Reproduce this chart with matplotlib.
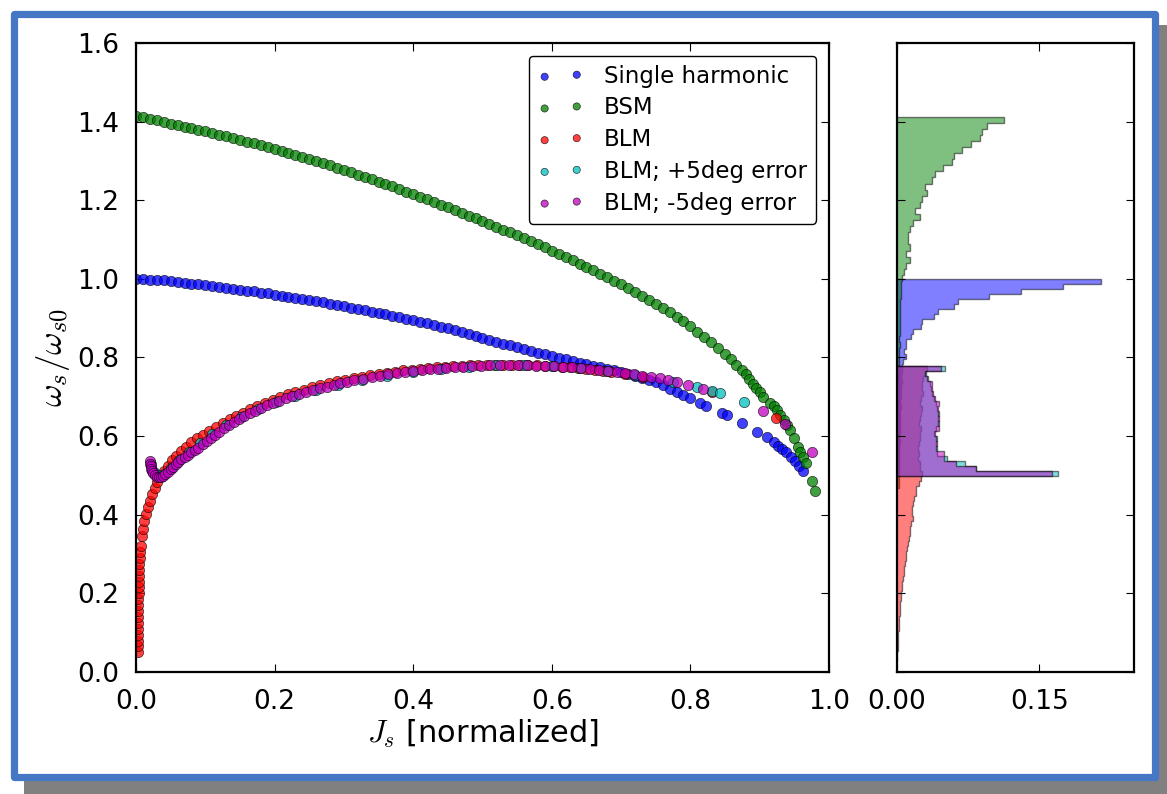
import numpy as np
import matplotlib
matplotlib.use("Agg")
import matplotlib.pyplot as plt
from matplotlib.patches import Rectangle

plt.rcParams['font.family'] = ['DejaVu Sans']
plt.rcParams['mathtext.fontset'] = 'cm'

# ---- scatter data: J_s (normalized) and omega_s/omega_s0 ----
single_J = [0.00, 0.01, 0.02, 0.03, 0.04, 0.05, 0.06, 0.07, 0.08, 0.09,
            0.10, 0.11, 0.12, 0.13, 0.14, 0.15, 0.16, 0.17, 0.18, 0.19,
            0.20, 0.21, 0.22, 0.23, 0.24, 0.25, 0.26, 0.27, 0.28, 0.29,
            0.30, 0.31, 0.32, 0.33, 0.34, 0.35, 0.36, 0.37, 0.38, 0.39,
            0.40, 0.41, 0.42, 0.43, 0.44, 0.45, 0.46, 0.47, 0.48, 0.49,
            0.50, 0.51, 0.52, 0.53, 0.54, 0.55, 0.56, 0.57, 0.58, 0.59,
            0.60, 0.61, 0.62, 0.63, 0.64, 0.65, 0.66, 0.67, 0.68, 0.69,
            0.70, 0.71, 0.72, 0.73, 0.74, 0.75, 0.76, 0.77, 0.78, 0.79,
            0.80, 0.814, 0.822, 0.845, 0.853, 0.874, 0.896, 0.910, 0.920, 0.926,
            0.932, 0.938, 0.945, 0.951, 0.956, 0.962]
single_w = [1.000, 0.999, 0.998, 0.997, 0.996, 0.994, 0.992, 0.990, 0.988, 0.986,
            0.984, 0.982, 0.979, 0.977, 0.975, 0.972, 0.970, 0.968, 0.965, 0.963,
            0.960, 0.957, 0.955, 0.952, 0.949, 0.946, 0.943, 0.940, 0.937, 0.934,
            0.930, 0.927, 0.924, 0.920, 0.917, 0.913, 0.910, 0.906, 0.902, 0.899,
            0.895, 0.891, 0.887, 0.883, 0.878, 0.874, 0.869, 0.865, 0.860, 0.855,
            0.850, 0.845, 0.840, 0.835, 0.831, 0.826, 0.822, 0.817, 0.812, 0.808,
            0.803, 0.799, 0.795, 0.791, 0.787, 0.783, 0.779, 0.776, 0.771, 0.767,
            0.762, 0.758, 0.753, 0.748, 0.744, 0.737, 0.729, 0.721, 0.712, 0.704,
            0.696, 0.684, 0.676, 0.660, 0.654, 0.633, 0.611, 0.598, 0.585, 0.575,
            0.568, 0.560, 0.548, 0.537, 0.525, 0.511]

bsm_J = [0.00, 0.01, 0.02, 0.03, 0.04, 0.05, 0.06, 0.07, 0.08, 0.09,
         0.10, 0.11, 0.12, 0.13, 0.14, 0.15, 0.16, 0.17, 0.18, 0.19,
         0.20, 0.21, 0.22, 0.23, 0.24, 0.25, 0.26, 0.27, 0.28, 0.29,
         0.30, 0.31, 0.32, 0.33, 0.34, 0.35, 0.36, 0.37, 0.38, 0.39,
         0.40, 0.41, 0.42, 0.43, 0.44, 0.45, 0.46, 0.47, 0.48, 0.49,
         0.50, 0.51, 0.52, 0.53, 0.54, 0.55, 0.56, 0.57, 0.58, 0.59,
         0.60, 0.61, 0.62, 0.63, 0.64, 0.65, 0.66, 0.67, 0.68, 0.69,
         0.70, 0.71, 0.72, 0.73, 0.74, 0.75, 0.76, 0.77, 0.78, 0.79,
         0.80, 0.81, 0.82, 0.83, 0.84, 0.85, 0.858, 0.866, 0.874, 0.880,
         0.885, 0.890, 0.895, 0.900, 0.905, 0.915, 0.920, 0.925, 0.930, 0.935,
         0.940, 0.944, 0.950, 0.955, 0.958, 0.962, 0.967, 0.975, 0.980]
bsm_w = [1.414, 1.411, 1.407, 1.403, 1.399, 1.395, 1.391, 1.387, 1.383, 1.379,
         1.375, 1.371, 1.367, 1.363, 1.359, 1.354, 1.349, 1.345, 1.340, 1.335,
         1.331, 1.326, 1.321, 1.315, 1.310, 1.305, 1.299, 1.294, 1.289, 1.283,
         1.277, 1.271, 1.265, 1.259, 1.253, 1.247, 1.241, 1.235, 1.229, 1.222,
         1.215, 1.209, 1.202, 1.195, 1.189, 1.182, 1.175, 1.168, 1.161, 1.154,
         1.147, 1.140, 1.133, 1.125, 1.118, 1.111, 1.103, 1.096, 1.088, 1.080,
         1.072, 1.064, 1.056, 1.048, 1.039, 1.031, 1.022, 1.013, 1.004, 0.995,
         0.986, 0.976, 0.967, 0.957, 0.947, 0.937, 0.926, 0.915, 0.904, 0.892,
         0.879, 0.866, 0.853, 0.839, 0.825, 0.808, 0.795, 0.782, 0.768, 0.757,
         0.745, 0.733, 0.722, 0.711, 0.700, 0.685, 0.676, 0.667, 0.653, 0.640,
         0.628, 0.616, 0.595, 0.572, 0.560, 0.547, 0.532, 0.486, 0.460]

blm_J = [0.003, 0.003, 0.003, 0.003, 0.003, 0.003, 0.003, 0.003, 0.003, 0.003,
         0.004, 0.004, 0.004, 0.004, 0.005, 0.005, 0.006, 0.006, 0.007, 0.008,
         0.010, 0.012, 0.014, 0.017, 0.020, 0.023, 0.027, 0.031, 0.036, 0.041,
         0.046, 0.052, 0.058, 0.065, 0.072, 0.080, 0.088, 0.097, 0.106, 0.115,
         0.125, 0.135, 0.145, 0.155, 0.165, 0.175, 0.186, 0.197, 0.208, 0.219,
         0.230, 0.242, 0.254, 0.266, 0.278, 0.290, 0.302, 0.314, 0.326, 0.338,
         0.350, 0.362, 0.374, 0.386, 0.398, 0.410, 0.422, 0.434, 0.446, 0.458,
         0.470, 0.482, 0.494, 0.506, 0.518, 0.530, 0.542, 0.554, 0.566, 0.578,
         0.590, 0.602, 0.614, 0.626, 0.638, 0.650, 0.662, 0.674, 0.686, 0.706,
         0.732, 0.831, 0.923]
blm_w = [0.050, 0.065, 0.080, 0.095, 0.110, 0.125, 0.140, 0.155, 0.170, 0.185,
         0.200, 0.215, 0.230, 0.245, 0.260, 0.275, 0.290, 0.305, 0.320, 0.345,
         0.365, 0.385, 0.402, 0.420, 0.436, 0.452, 0.468, 0.483, 0.498, 0.512,
         0.525, 0.538, 0.550, 0.562, 0.573, 0.584, 0.594, 0.604, 0.614, 0.624,
         0.634, 0.643, 0.652, 0.660, 0.668, 0.676, 0.684, 0.692, 0.699, 0.706,
         0.712, 0.718, 0.724, 0.729, 0.734, 0.739, 0.743, 0.747, 0.751, 0.755,
         0.758, 0.761, 0.764, 0.767, 0.769, 0.771, 0.773, 0.775, 0.777, 0.778,
         0.779, 0.780, 0.781, 0.782, 0.782, 0.782, 0.782, 0.782, 0.781, 0.780,
         0.779, 0.778, 0.777, 0.775, 0.773, 0.771, 0.768, 0.765, 0.762, 0.758,
         0.751, 0.712, 0.646]

plus_J = [0.022, 0.026, 0.032, 0.040, 0.050, 0.062, 0.076, 0.092, 0.110, 0.130,
          0.152, 0.176, 0.202, 0.230, 0.260, 0.292, 0.326, 0.362, 0.400, 0.440,
          0.480, 0.520, 0.560, 0.600, 0.640, 0.680, 0.720, 0.775, 0.809, 0.831,
          0.843, 0.877]
plus_w = [0.530, 0.510, 0.500, 0.503, 0.518, 0.538, 0.560, 0.583, 0.606, 0.628,
          0.649, 0.668, 0.686, 0.702, 0.717, 0.731, 0.743, 0.754, 0.764, 0.772,
          0.777, 0.780, 0.780, 0.778, 0.773, 0.765, 0.755, 0.738, 0.726, 0.715,
          0.710, 0.687]

minus_J = [0.020, 0.0205, 0.021, 0.022, 0.023, 0.025, 0.027, 0.030, 0.033, 0.036,
           0.039, 0.042, 0.046, 0.050, 0.053, 0.057, 0.061, 0.065, 0.070, 0.075,
           0.080, 0.085, 0.090, 0.096, 0.102, 0.108, 0.114, 0.120, 0.127, 0.134,
           0.141, 0.148, 0.156, 0.164, 0.172, 0.180, 0.189, 0.198, 0.207, 0.216,
           0.225, 0.235, 0.245, 0.255, 0.265, 0.275, 0.285, 0.295, 0.305, 0.315,
           0.328, 0.340, 0.352, 0.364, 0.376, 0.388, 0.400, 0.412, 0.424, 0.436,
           0.448, 0.460, 0.472, 0.485, 0.498, 0.511, 0.525, 0.538, 0.551, 0.564,
           0.577, 0.590, 0.603, 0.616, 0.629, 0.642, 0.655, 0.668, 0.681, 0.694,
           0.706, 0.718, 0.730, 0.743, 0.756, 0.768, 0.780, 0.797, 0.818, 0.905,
           0.937, 0.975]
minus_w = [0.537, 0.530, 0.524, 0.517, 0.511, 0.505, 0.500, 0.497, 0.496, 0.496,
           0.499, 0.503, 0.509, 0.516, 0.522, 0.529, 0.535, 0.541, 0.547, 0.553,
           0.559, 0.565, 0.571, 0.579, 0.587, 0.595, 0.603, 0.611, 0.620, 0.629,
           0.637, 0.644, 0.651, 0.658, 0.665, 0.671, 0.678, 0.684, 0.690, 0.696,
           0.701, 0.707, 0.712, 0.717, 0.722, 0.726, 0.730, 0.734, 0.738, 0.742,
           0.746, 0.750, 0.753, 0.757, 0.760, 0.763, 0.766, 0.768, 0.770, 0.772,
           0.773, 0.775, 0.776, 0.778, 0.779, 0.780, 0.781, 0.781, 0.780, 0.780,
           0.779, 0.779, 0.778, 0.777, 0.775, 0.773, 0.771, 0.768, 0.766, 0.763,
           0.760, 0.757, 0.754, 0.751, 0.748, 0.743, 0.738, 0.730, 0.720, 0.664,
           0.631, 0.560]

# ---- histogram bar heights, listed from the top bin downward ----
single_top, single_bin = 1.000, 0.0127
single_hist = [0.215, 0.175, 0.131, 0.097, 0.064, 0.060, 0.043, 0.039, 0.026, 0.025,
               0.017, 0.015, 0.010, 0.009, 0.007, 0.009, 0.006, 0.005, 0.005, 0.004,
               0.005, 0.004, 0.004, 0.004, 0.003, 0.004, 0.003, 0.003, 0.003, 0.003,
               0.003, 0.002, 0.003, 0.002, 0.002, 0.002, 0.002, 0.002, 0.002]

bsm_top, bsm_bin = 1.413, 0.0155
bsm_hist = [0.113, 0.095, 0.090, 0.088, 0.078, 0.069, 0.060, 0.058, 0.048, 0.040,
            0.037, 0.030, 0.032, 0.026, 0.024, 0.019, 0.024, 0.017, 0.014, 0.012,
            0.012, 0.014, 0.010, 0.014, 0.009, 0.007, 0.005, 0.004, 0.004, 0.004,
            0.003, 0.003, 0.003, 0.003, 0.003, 0.003, 0.002, 0.003, 0.002, 0.002,
            0.002, 0.002, 0.002, 0.002, 0.002, 0.002, 0.002, 0.002, 0.002, 0.002,
            0.002, 0.002, 0.002, 0.002, 0.002, 0.002, 0.002, 0.002, 0.002, 0.002,
            0.002]

blm_top, blm_bin = 0.778, 0.0127
blm_hist = [0.032, 0.030, 0.027, 0.026, 0.026, 0.027, 0.025, 0.024, 0.026, 0.025,
            0.024, 0.023, 0.025, 0.024, 0.024, 0.023, 0.022, 0.023, 0.022, 0.024,
            0.024, 0.026, 0.025, 0.023, 0.020, 0.020, 0.018, 0.017, 0.016, 0.016,
            0.017, 0.015, 0.014, 0.014, 0.013, 0.012, 0.011, 0.010, 0.009, 0.008,
            0.0075, 0.007, 0.006, 0.0055, 0.005, 0.0045, 0.004, 0.0035, 0.003, 0.003,
            0.0025, 0.002, 0.002, 0.0015, 0.001, 0.001, 0.0008, 0.0005, 0.0005]

plus_top, plus_bin = 0.778, 0.0127
plus_hist = [0.051, 0.031, 0.033, 0.035, 0.036, 0.037, 0.039, 0.041, 0.042, 0.044,
             0.043, 0.044, 0.041, 0.039, 0.042, 0.041, 0.042, 0.042, 0.0525, 0.072,
             0.083, 0.170]

minus_top, minus_bin = 0.778, 0.0127
minus_hist = [0.046, 0.030, 0.032, 0.037, 0.037, 0.038, 0.040, 0.044, 0.043, 0.043,
              0.044, 0.043, 0.044, 0.040, 0.041, 0.042, 0.041, 0.050, 0.050, 0.062,
              0.083, 0.164]

labels = ["Single harmonic", "BSM", "BLM", "BLM; +5deg error", "BLM; -5deg error"]
colors = ["b", "g", "r", "c", "m"]

W, H = 1167, 794
fig = plt.figure(figsize=(W / 100, H / 100), dpi=100)

# framed look: grey drop shadow and a blue border
shadow = Rectangle((24 / W, 0), (W - 24) / W, (H - 25) / H,
                   transform=fig.transFigure, facecolor="#808080",
                   edgecolor="none", zorder=-5)
border = Rectangle((13.5 / W, 1 - 776.5 / H), (1154.5 - 13.5) / W, (776.5 - 13.5) / H,
                   transform=fig.transFigure, facecolor="white",
                   edgecolor="#4677c5", linewidth=5.2, joinstyle="round", zorder=-4)
fig.patches.extend([shadow, border])

ax = fig.add_axes([136 / W, 1 - 672 / H, (829 - 136) / W, (672 - 43) / H])
axh = fig.add_axes([897 / W, 1 - 672 / H, (1134 - 897) / W, (672 - 43) / H])

series = [(single_J, single_w), (bsm_J, bsm_w), (blm_J, blm_w),
          (plus_J, plus_w), (minus_J, minus_w)]
for (xs, ys), c, lab in zip(series, colors, labels):
    ax.scatter(xs, ys, s=55, c=c, alpha=0.75, edgecolors="k", linewidths=0.5,
               label=lab, zorder=2)

ax.set_xlim(0, 1.0)
ax.set_ylim(0, 1.6)
ax.set_xticks(np.arange(0, 1.01, 0.2))
ax.set_yticks(np.arange(0, 1.61, 0.2))
ax.set_xticklabels(["0.0", "0.2", "0.4", "0.6", "0.8", "1.0"])
ax.set_yticklabels(["0.0", "0.2", "0.4", "0.6", "0.8", "1.0", "1.2", "1.4", "1.6"])
ax.set_xlabel(r"$J_s$ [normalized]", fontsize=22, labelpad=2)
ax.set_ylabel(r"$\omega_s/\omega_{s0}$", fontsize=25, labelpad=4)

leg = ax.legend(loc="upper right", scatterpoints=2, markerscale=0.7, fontsize=16.5,
                frameon=True, fancybox=True, framealpha=1, edgecolor="k",
                borderpad=0.4, labelspacing=0.38, handlelength=2.0,
                handletextpad=0.9, borderaxespad=0.55)
leg.get_frame().set_linewidth(1.0)

hists = [(single_top, single_bin, single_hist), (bsm_top, bsm_bin, bsm_hist),
         (blm_top, blm_bin, blm_hist), (plus_top, plus_bin, plus_hist),
         (minus_top, minus_bin, minus_hist)]
for (top, width, vals), c in zip(hists, colors):
    edges = top - width * np.arange(len(vals) + 1)
    axh.stairs(vals, edges, orientation="horizontal", fill=True,
               facecolor=c, edgecolor="k", alpha=0.5, linewidth=1.0)

axh.set_ylim(0, 1.6)
axh.set_xlim(0, 0.25)
axh.set_yticks(np.arange(0, 1.61, 0.2))
axh.set_yticklabels([])
axh.set_xticks([0.0, 0.15])
axh.set_xticklabels(["0.00", "0.15"])

for a in (ax, axh):
    a.tick_params(direction="in", top=True, right=True, length=6, width=0.8,
                  labelsize=19, pad=12, colors="k")
    for sp in a.spines.values():
        sp.set_linewidth(1.6)

fig.savefig("out.png", dpi=100)
